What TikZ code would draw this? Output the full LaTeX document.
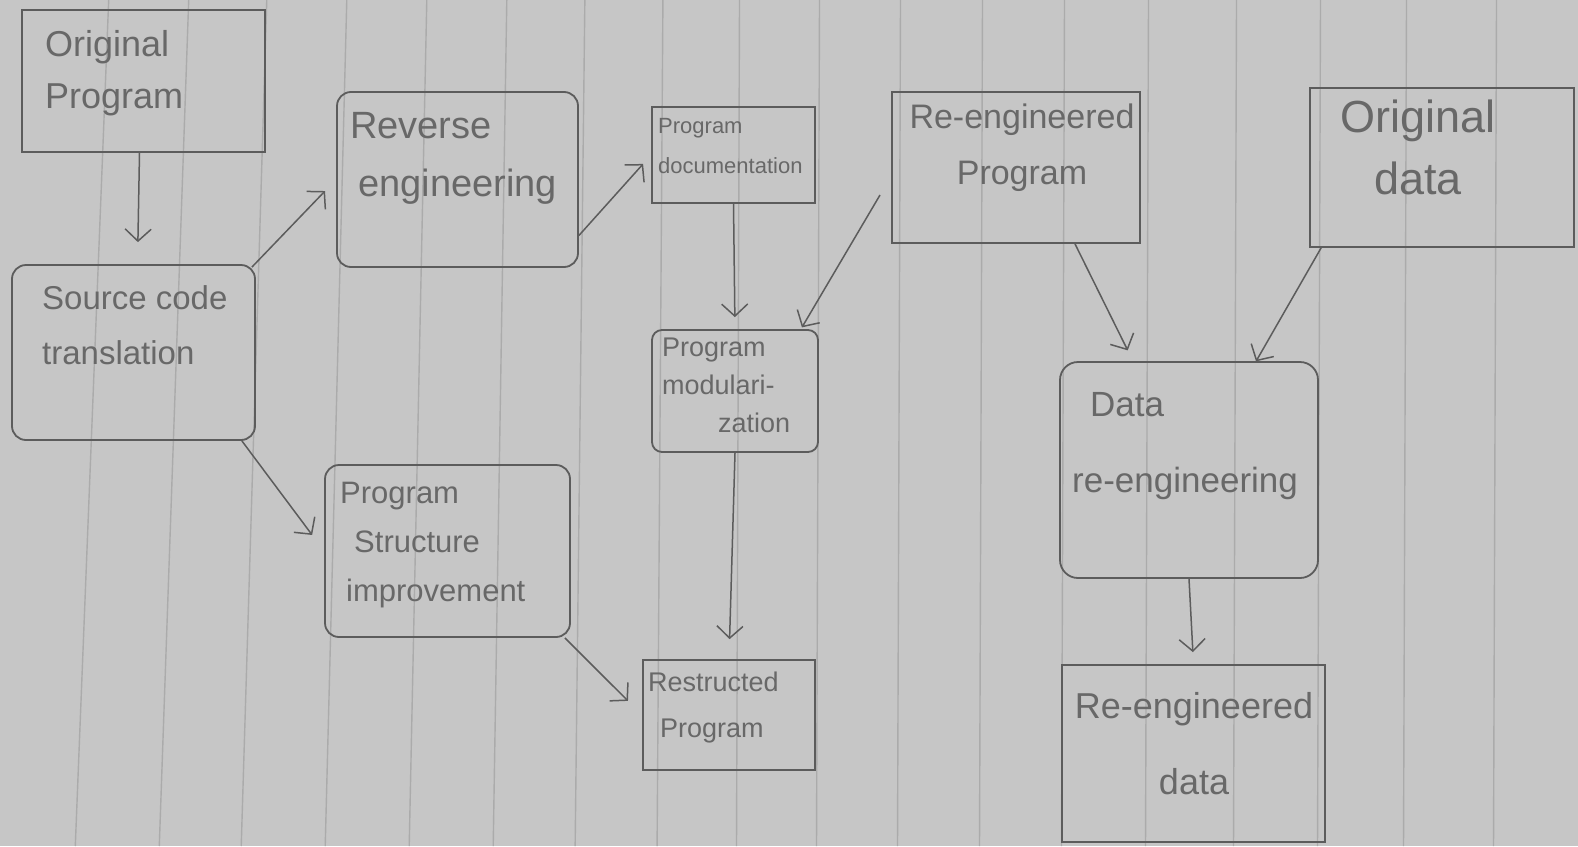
\documentclass[tikz,border=0pt]{standalone}
\usepackage{fontspec}
\setmainfont{Liberation Sans}
\usetikzlibrary{arrows.meta}
\definecolor{paper}{HTML}{C6C6C6}
\definecolor{ruling}{HTML}{ABABAB}
\definecolor{ink}{HTML}{5C5C5C}
\definecolor{pencil}{HTML}{686868}
\newcommand{\fs}[2]{\fontsize{#1}{#2}\selectfont}
\begin{document}
\begin{tikzpicture}[x=1pt,y=-1pt,
  ruleline/.style={draw=ruling, line width=1.4pt},
  box/.style={draw=ink, line width=1.8pt, inner sep=0pt, rectangle},
  rbox/.style={box, rounded corners=14pt},
  lbl/.style={inner sep=0pt, text=pencil, anchor=north west, align=left},
  clbl/.style={inner sep=0pt, text=pencil, anchor=north, align=center},
  arr/.style={draw=ink, line width=1.5pt, -{Straight Barb[length=12pt,width=26pt,line width=1.5pt]}}]
% sheet of ruled paper; the rulings lean a little more on the left
\fill[paper] (0,0) rectangle (1578,846);
\useasboundingbox (0,0) rectangle (1578,846);
\foreach \x in {92,174,254,336,418,500,580,660,738,818,899,981,1063,1147,1235,1319,1405,1495}{
  \pgfmathsetmacro{\s}{max(34-(\x-80)/700*34,3)}
  \draw[ruleline] (\x+\s/2,0) -- (\x-\s/2,846);
}

% boxes
\node[box,  minimum width=243pt, minimum height=142pt] (op) at (143.5,81) {};
\node[rbox, minimum width=243pt, minimum height=175pt] (sc) at (133.5,352.5) {};
\node[rbox, minimum width=241pt, minimum height=175pt] (re) at (457.5,179.5) {};
\node[rbox, minimum width=245pt, minimum height=172pt] (ps) at (447.5,551) {};
\node[box,  minimum width=163pt, minimum height=96pt]  (pd) at (733.5,155) {};
\node[rbox, minimum width=166pt, minimum height=122pt, rounded corners=10pt] (pm) at (735,391) {};
\node[box,  minimum width=172pt, minimum height=110pt] (rp) at (729,715) {};
\node[box,  minimum width=248pt, minimum height=151pt] (rg) at (1016,167.5) {};
\node[box,  minimum width=264pt, minimum height=159pt] (od) at (1442,167.5) {};
\node[rbox, minimum width=258pt, minimum height=216pt, rounded corners=18pt] (dr) at (1189,470) {};
\node[box,  minimum width=263pt, minimum height=177pt] (rd) at (1193.5,753.5) {};

% texts
\node[lbl, font=\fs{36}{52}] (opt) at (45,30) {Original\\Program};
\node[lbl, font=\fs{33}{55}] (sct) at (42,285) {Source code\\translation};
\node[lbl, font=\fs{38}{58}] (ret) at (350,112) {Reverse\\\hspace*{8pt}engineering};
\node[lbl, font=\fs{31}{49}] (pst) at (340,482) {Program\\\hspace*{14pt}Structure\\\hspace*{6pt}improvement};
\node[lbl, font=\fs{22}{40}] (pdt) at (658,118) {Program\\documentation};
\node[lbl, font=\fs{27}{38}] (pmt) at (662,338) {Program\\modulari-\\\hspace*{56pt}zation};
\node[lbl, font=\fs{27}{46}] (rpt) at (648,672) {Restructed\\\hspace*{12pt}Program};
\node[clbl, font=\fs{34}{56}] (rgt) at (1022,104) {Re-engineered\\Program};
\node[clbl, font=\fs{45}{62}] (odt) at (1418,100) {Original\\data};
\node[lbl, font=\fs{35}{76}] (drt) at (1072,392) {\hspace*{18pt}Data\\re-engineering};
\node[clbl, font=\fs{36}{76}] (rdt) at (1194,692) {Re-engineered\\data};

% connectors
\coordinate (fs) at (880,195);
\draw[arr, shorten >=22pt] ([xshift=-4pt]op.south) -- ([xshift=4pt]sc.north);
\draw[arr, shorten >=16pt] ([xshift=-4pt,yshift=-3pt]sc.north east) -- (re.west);
\draw[arr, shorten >=20pt] ([xshift=-14pt]sc.south east) -- (ps.west);
\draw[arr, shorten >=12pt] ([yshift=-56pt]re.east) -- (pd.west);
\draw[arr, shorten >=12pt] (pd.south) -- (pm.north);
\draw[arr, shorten >=2pt]  (fs) -- ([xshift=-18pt]pm.north east);
\draw[arr, shorten >=20pt] (pm.south) -- (rp.north);
\draw[arr, shorten >=20pt] ([xshift=-6pt]ps.south east) -- (rp.west);
\draw[arr, shorten >=12pt] ([xshift=59pt]rg.south) -- ([xshift=-56pt]dr.north);
\draw[arr, shorten >=2pt]  ([xshift=12pt]od.south west) -- ([xshift=66pt,yshift=-2pt]dr.north);
\draw[arr, shorten >=12pt] (dr.south) -- (rd.north);
\end{tikzpicture}
\end{document}
